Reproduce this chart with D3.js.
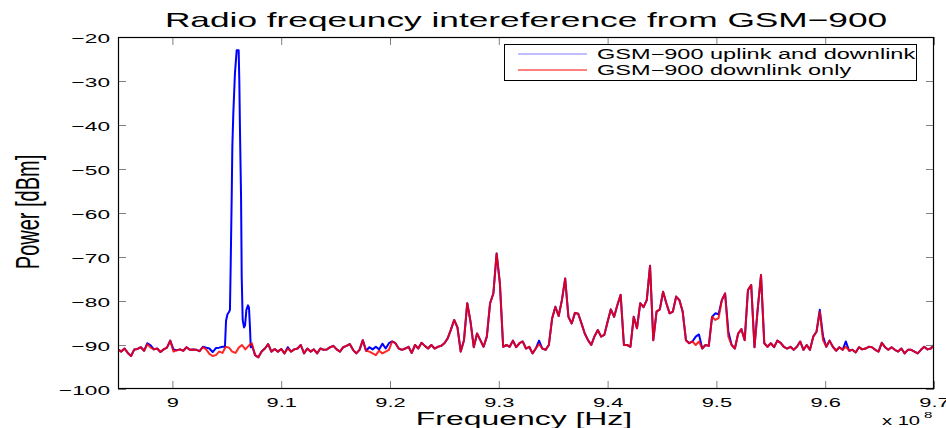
<!DOCTYPE html>
<html><head><meta charset="utf-8">
<script src="https://cdn.jsdelivr.net/npm/d3@7"></script>
<style>
body{margin:0;background:#fff}
svg{display:block}
text{font-family:"Liberation Sans", Arial, Helvetica, sans-serif;fill:#000}
</style>
</head><body>
<svg id="chart" width="946" height="428"></svg>
<script>
// ---------------- DATA ----------------
const titleText = "Radio freqeuncy intereference from GSM\u2212900";
const xLabel = "Frequency [Hz]";
const yLabel = "Power [dBm]";
const seriesNames = ["GSM\u2212900 uplink and downlink", "GSM\u2212900 downlink only"];
const xTicks = [9.0, 9.1, 9.2, 9.3, 9.4, 9.5, 9.6, 9.7];
const xTickLabels = ["9", "9.1", "9.2", "9.3", "9.4", "9.5", "9.6", "9.7"];
const yTicks = [-100, -90, -80, -70, -60, -50, -40, -30, -20];
const yTickLabels = ["\u2212100", "\u221290", "\u221280", "\u221270", "\u221260", "\u221250", "\u221240", "\u221230", "\u221220"];
const xExponent = "8";
// frequency grid (units of 1e8 Hz)
const freqStart = 8.95;
const freqStep = 0.003;
// GSM-900 downlink only (dBm)
const downlinkPower = [
-91.0,-91.5,-90.8,-91.8,-92.5,-91.0,-90.9,-90.5,-91.3,-89.8,
-90.6,-91.0,-90.8,-91.6,-91.0,-90.6,-89.0,-91.5,-91.2,-91.0,
-91.3,-90.5,-91.1,-91.0,-91.1,-91.4,-90.5,-91.0,-92.0,-92.5,
-92.3,-91.5,-91.8,-90.4,-90.6,-91.5,-91.8,-90.6,-90.0,-91.0,
-90.2,-89.6,-92.3,-92.8,-91.5,-90.8,-89.8,-91.5,-90.9,-91.5,
-90.9,-91.9,-90.8,-91.5,-91.0,-90.8,-90.0,-91.9,-90.8,-91.5,
-91.0,-91.9,-90.8,-91.1,-91.0,-90.5,-90.2,-91.0,-91.5,-90.5,
-90.2,-89.8,-91.1,-91.9,-91.1,-88.9,-91.3,-91.5,-91.9,-92.3,
-91.3,-91.9,-91.5,-91.1,-89.2,-89.6,-90.8,-91.1,-90.8,-90.4,
-91.8,-90.0,-90.8,-89.5,-90.2,-90.8,-90.0,-90.8,-90.4,-90.2,
-89.6,-88.5,-86.5,-84.3,-86.0,-91.5,-88.9,-80.5,-84.7,-90.5,
-87.4,-88.9,-90.4,-88.1,-80.5,-78.3,-69.2,-76.0,-90.4,-90.0,
-90.4,-89.0,-90.5,-89.6,-89.2,-90.8,-90.4,-91.9,-90.8,-89.8,
-90.8,-91.1,-90.0,-84.0,-81.3,-83.4,-79.8,-74.9,-83.6,-85.1,
-82.7,-82.9,-85.1,-87.4,-88.9,-90.0,-88.0,-86.6,-88.1,-87.7,
-84.7,-81.9,-83.6,-80.9,-78.6,-90.0,-90.0,-90.4,-83.6,-86.2,
-80.5,-81.4,-79.8,-72.0,-88.9,-82.4,-81.9,-77.9,-80.5,-82.8,
-82.4,-79.0,-79.8,-82.4,-88.9,-89.6,-89.2,-90.0,-89.2,-90.8,
-90.0,-90.2,-83.6,-84.3,-83.9,-79.8,-78.3,-88.1,-90.0,-90.8,
-87.4,-86.4,-88.9,-77.5,-76.4,-90.5,-81.7,-74.1,-89.6,-90.4,
-89.6,-90.5,-89.0,-89.5,-90.4,-90.8,-90.4,-91.1,-90.4,-89.2,
-91.1,-90.0,-91.1,-88.1,-87.0,-82.4,-88.9,-90.4,-89.0,-90.4,
-91.3,-90.5,-91.1,-90.4,-91.3,-91.1,-91.7,-90.5,-91.0,-90.8,
-90.4,-90.5,-91.1,-91.5,-89.5,-90.5,-91.1,-90.5,-91.1,-91.5,
-90.8,-91.9,-91.1,-91.1,-91.5,-91.9,-91.1,-90.4,-91.0,-90.8,
-90.0
];
// GSM-900 uplink and downlink (dBm); null where the finer burst samples below apply
const uplinkPower = [
-91.0,-91.5,-90.8,-91.8,-92.5,-91.0,-90.9,-90.5,-91.3,-89.6,
-90.1,-91.0,-90.8,-91.6,-91.0,-90.6,-89.0,-91.0,-91.2,-91.0,
-91.3,-90.5,-91.1,-91.0,-91.1,-91.4,-90.4,-90.6,-90.8,-91.6,
-90.7,-90.6,-90.4,null,null,null,null,null,null,null,
null,-90.0,-92.3,-92.8,-91.5,-90.8,-89.8,-91.5,-90.9,-91.5,
-90.9,-91.9,-90.5,-91.5,-91.0,-90.8,-90.0,-91.9,-90.8,-91.5,
-91.0,-91.9,-90.8,-91.1,-91.0,-90.5,-90.2,-91.0,-91.5,-90.5,
-90.2,-89.8,-91.1,-91.9,-91.1,-88.9,-91.3,-90.5,-91.0,-90.4,
-91.0,-89.7,-90.8,-89.6,-89.2,-89.6,-90.8,-91.1,-90.8,-90.4,
-91.8,-90.0,-90.8,-89.5,-90.2,-90.8,-90.0,-90.8,-90.4,-90.2,
-89.6,-88.5,-86.5,-84.3,-86.0,-91.5,-88.9,-80.5,-84.7,-90.5,
-87.4,-88.9,-90.4,-88.1,-80.5,-78.3,-69.2,-76.0,-90.4,-90.0,
-90.4,-89.0,-90.5,-89.6,-89.2,-90.8,-90.4,-91.9,-90.8,-89.0,
-90.8,-91.1,-90.0,-84.0,-81.3,-83.4,-79.8,-74.9,-83.6,-85.1,
-82.7,-82.9,-85.1,-87.4,-88.9,-90.0,-88.0,-86.6,-88.1,-87.7,
-84.7,-81.9,-83.6,-80.9,-78.6,-90.0,-90.0,-90.4,-83.6,-86.2,
-80.5,-81.4,-79.8,-72.0,-88.9,-82.4,-81.9,-77.9,-80.5,-82.8,
-82.4,-79.0,-79.8,-82.4,-88.9,-89.6,-89.2,-88.1,-87.6,-90.8,
-90.0,-90.2,-83.6,-82.8,-83.0,-79.8,-78.3,-87.0,-90.0,-90.8,
-87.4,-86.4,-88.9,-77.5,-76.4,-90.5,-81.7,-74.1,-89.6,-90.4,
-89.6,-90.5,-89.0,-89.5,-90.4,-90.8,-90.4,-91.1,-90.4,-89.2,
-91.1,-90.0,-91.1,-88.1,-87.0,-82.0,-88.0,-90.4,-89.0,-90.4,
-91.3,-90.5,-91.1,-89.2,-91.3,-91.1,-91.7,-90.5,-91.0,-90.8,
-90.4,-90.5,-91.1,-91.5,-89.5,-90.5,-91.1,-90.5,-91.1,-91.5,
-90.8,-91.9,-91.1,-91.1,-91.5,-91.9,-91.1,-90.4,-91.0,-90.8,
-90.0
];
// uplink burst near 906 MHz, finer samples
const burstFreq = [9.0483, 9.0493, 9.0506, 9.0520, 9.0529, 9.0536, 9.0545, 9.0551, 9.0560, 9.0575, 9.0591, 9.0609,
  9.0615, 9.0621, 9.0631, 9.0637, 9.0646, 9.0658, 9.0668, 9.0680, 9.0695, 9.0704, 9.0713, 9.0720];
const burstPower = [-90.4, -84.5, -83.0, -82.5, -82.0, -71.4, -56.3, -44.9, -37.3, -28.2, -23.0, -23.0,
  -29.8, -41.1, -56.3, -74.5, -84.3, -86.0, -85.5, -82.0, -81.0, -81.5, -86.0, -90.5];

// ---------------- DRAWING ----------------
const W = 946, H = 428;
const L = 118, R = 934, T = 37, B = 389;
const SX = 1.68; // horizontal text stretch seen in the reference

const svg = d3.select("#chart");
const x = d3.scaleLinear().domain([8.95, 9.7]).range([L, R]);
const y = d3.scaleLinear().domain([-100, -20]).range([B, T]);

svg.append("rect").attr("width", W).attr("height", H).attr("fill", "#fff");

function sText(g, px, py, str, size, anchor) {
  return g.append("text")
    .attr("transform", `translate(${px},${py}) scale(${SX},1)`)
    .attr("font-size", size)
    .attr("text-anchor", anchor || "start")
    .text(str);
}

// data
const downData = downlinkPower.map((v, i) => ({ f: freqStart + i * freqStep, v }));
const upCoarse = uplinkPower.map((v, i) => ({ f: freqStart + i * freqStep, v })).filter(d => d.v !== null);
const upBurst = burstFreq.map((f, i) => ({ f, v: burstPower[i] }));
const upData = upCoarse.concat(upBurst).sort((a, b) => a.f - b.f);

svg.append("clipPath").attr("id", "clip").append("rect")
  .attr("x", L).attr("y", T).attr("width", R - L).attr("height", B - T);

const line = d3.line().x(d => x(d.f)).y(d => y(d.v));
const plot = svg.append("g").attr("clip-path", "url(#clip)");
plot.append("path").datum(upData).attr("d", line)
  .attr("fill", "none").attr("stroke", "#0000ff").attr("stroke-width", 2).attr("stroke-linejoin", "round");
plot.append("path").datum(downData).attr("d", line)
  .attr("fill", "none").attr("stroke", "#ff0000").attr("stroke-width", 2).attr("stroke-opacity", 0.85).attr("stroke-linejoin", "round");

// axes (ticks inward on all four sides)
const tickCol = "#808080";
const gx = svg.append("g").attr("transform", `translate(0,${B})`)
  .call(d3.axisBottom(x).tickValues(xTicks).tickSize(-8).tickSizeOuter(0).tickFormat((d, i) => xTickLabels[i]));
gx.select(".domain").remove();
gx.selectAll(".tick line").attr("stroke", tickCol);
gx.selectAll(".tick text").attr("y", null).attr("dy", null)
  .attr("transform", `translate(0,18) scale(${SX},1)`)
  .attr("font-size", 13).attr("font-family", null).attr("fill", "#000");

const gxt = svg.append("g").attr("transform", `translate(0,${T})`)
  .call(d3.axisTop(x).tickValues(xTicks).tickSize(-8).tickSizeOuter(0).tickFormat(""));
gxt.select(".domain").remove();
gxt.selectAll(".tick line").attr("stroke", tickCol);

const gy = svg.append("g").attr("transform", `translate(${L},0)`)
  .call(d3.axisLeft(y).tickValues(yTicks).tickSize(-8).tickSizeOuter(0).tickFormat((d, i) => yTickLabels[i]));
gy.select(".domain").remove();
gy.selectAll(".tick line").attr("stroke", tickCol);
gy.selectAll(".tick text").attr("x", null).attr("dy", null)
  .attr("transform", `translate(-8,5) scale(${SX},1)`)
  .attr("font-size", 13.5).attr("font-family", null).attr("fill", "#000").attr("text-anchor", "end");

const gyr = svg.append("g").attr("transform", `translate(${R},0)`)
  .call(d3.axisRight(y).tickValues(yTicks).tickSize(-8).tickSizeOuter(0).tickFormat(""));
gyr.select(".domain").remove();
gyr.selectAll(".tick line").attr("stroke", tickCol);

// frame
svg.append("rect").attr("x", L + 0.5).attr("y", T + 0.5).attr("width", R - L - 1).attr("height", B - T - 1)
  .attr("fill", "none").attr("stroke", "#000").attr("stroke-width", 1.2);

// title & labels
sText(svg, (L + R) / 2, 27, titleText, 21, "middle");
sText(svg, 524, 425, xLabel, 19, "middle");
sText(svg, 882, 425, "x 10", 12, "start");
sText(svg, 924, 418, xExponent, 9, "start");
svg.append("text")
  .attr("transform", `translate(39,212) scale(${SX},1) rotate(-90)`)
  .attr("font-size", 20).attr("text-anchor", "middle").text(yLabel);

// legend
const lg = svg.append("g");
lg.append("rect").attr("x", 504.5).attr("y", 44.5).attr("width", 412).attr("height", 36)
  .attr("fill", "#fff").attr("stroke", "#000").attr("stroke-width", 1);
const legendColors = ["#0000ff", "#ff0000"];
const legendOpac = [0.5, 1];
seriesNames.forEach((name, i) => {
  const ly = 54 + i * 16;
  lg.append("line").attr("x1", 518).attr("x2", 587).attr("y1", ly).attr("y2", ly)
    .attr("stroke", legendColors[i]).attr("stroke-opacity", legendOpac[i]).attr("stroke-width", 1);
  sText(lg, 597, ly + 5, name, 14, "start");
});
</script>
</body></html>
